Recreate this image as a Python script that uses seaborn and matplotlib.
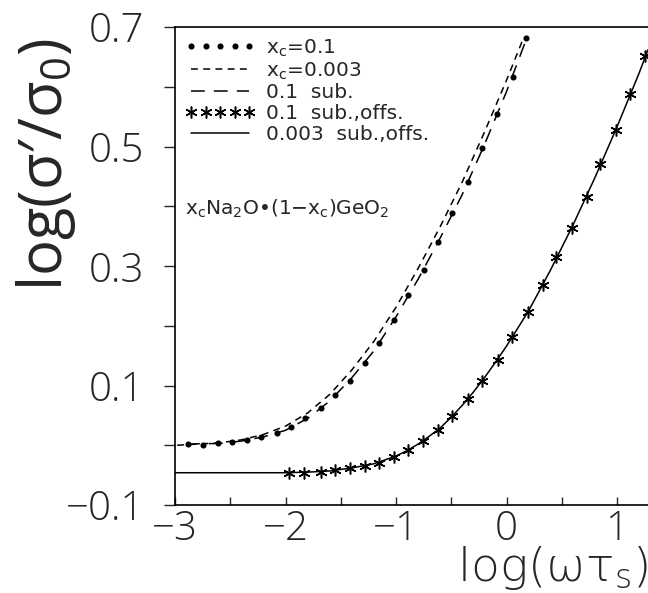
import numpy as np
import pandas as pd
import matplotlib
matplotlib.use("Agg")
import matplotlib.pyplot as plt
import seaborn as sns
from matplotlib import font_manager as fm

# ---- data ----
dots_x = [-2.88, -2.75, -2.61, -2.48, -2.35, -2.22, -2.08, -1.95, -1.82, -1.68, -1.55, -1.42,
          -1.28, -1.15, -1.02, -0.89, -0.75, -0.62, -0.49, -0.35, -0.22, -0.09, 0.06, 0.18]
dots_y = [0.002, 0.000, 0.003, 0.006, 0.008, 0.013, 0.020, 0.030, 0.045, 0.062, 0.084, 0.108,
          0.138, 0.171, 0.209, 0.251, 0.294, 0.341, 0.388, 0.441, 0.498, 0.554, 0.617, 0.681]

x003_x = [-2.98, -2.6, -2.4, -2.2, -2.0, -1.8, -1.6, -1.4, -1.2, -1.0, -0.8, -0.6, -0.4, -0.2, 0.0, 0.15]
x003_y = [0.000, 0.004, 0.009, 0.018, 0.032, 0.054, 0.085, 0.126, 0.174, 0.231, 0.296, 0.366, 0.441, 0.524, 0.611, 0.680]

sub01_x = [-2.9, -2.6, -2.4, -2.2, -2.0, -1.8, -1.6, -1.4, -1.2, -1.0, -0.8, -0.6, -0.4, -0.2, 0.0, 0.18]
sub01_y = [0.002, 0.003, 0.007, 0.014, 0.025, 0.045, 0.074, 0.113, 0.158, 0.215, 0.278, 0.347, 0.420, 0.503, 0.592, 0.680]

stars_x = [-1.97, -1.83, -1.68, -1.55, -1.42, -1.28, -1.15, -1.02, -0.89, -0.76, -0.62, -0.49,
           -0.35, -0.22, -0.08, 0.05, 0.19, 0.33, 0.45, 0.59, 0.73, 0.85, 0.99, 1.12, 1.25]
stars_y = [-0.046, -0.046, -0.044, -0.041, -0.038, -0.035, -0.029, -0.019, -0.008, 0.007, 0.026, 0.049,
           0.077, 0.108, 0.143, 0.181, 0.223, 0.268, 0.315, 0.364, 0.416, 0.471, 0.528, 0.588, 0.652]

solid_x = [-3.0, -2.5, -2.0, -1.8, -1.6, -1.4, -1.2, -1.0, -0.9, -0.8, -0.7, -0.6, -0.5, -0.4,
           -0.3, -0.2, -0.1, 0.0, 0.2, 0.4, 0.6, 0.8, 1.0, 1.2, 1.28]
solid_y = [-0.046, -0.046, -0.046, -0.045, -0.043, -0.038, -0.031, -0.018, -0.009, 0.002, 0.015,
           0.029, 0.047, 0.067, 0.089, 0.113, 0.139, 0.166, 0.225, 0.294, 0.368, 0.448, 0.533,
           0.623, 0.662]

labels = ["x$_\\mathregular{c}$=0.1", "x$_\\mathregular{c}$=0.003", "0.1  sub.",
          "0.1  sub.,offs.", "0.003  sub.,offs."]
x_ticks = [-3, -2, -1, 0, 1]
y_ticks = [-0.1, 0.1, 0.3, 0.5, 0.7]

sns.set_style("ticks")
names = {f.name for f in fm.fontManager.ttflist}
light_name = "Open Sans Light" if "Open Sans Light" in names else "Open Sans"
FAM = [light_name, "Open Sans", "DejaVu Sans"]
plt.rcParams["font.family"] = FAM
plt.rcParams["font.weight"] = "light"
plt.rcParams["mathtext.fontset"] = "custom"
plt.rcParams["mathtext.rm"] = light_name + ":light"
plt.rcParams["mathtext.it"] = light_name + ":italic:light"

THIN = dict(family=["DejaVu Sans", light_name], weight="light")
REG = dict(family=["DejaVu Sans", "Open Sans"], weight="normal")

fig = plt.figure(figsize=(6.48, 5.93), dpi=100)
ax = fig.add_axes([175 / 648, 1 - 505 / 593, 1 - 175 / 648, (505 - 27) / 593])

lw = 1.1
sns.lineplot(x=dots_x, y=dots_y, ax=ax, color="black", linestyle="none", marker="o",
             markersize=4.4, markeredgewidth=0, markeredgecolor="black",
             label=labels[0], sort=False)
sns.lineplot(x=x003_x, y=x003_y, ax=ax, color="black", lw=lw, linestyle=(0, (4.5, 3.5)),
             label=labels[1], sort=False)
sns.lineplot(x=sub01_x, y=sub01_y, ax=ax, color="black", lw=lw, linestyle=(0, (9, 6)),
             label=labels[2], sort=False)
sns.lineplot(x=stars_x, y=stars_y, ax=ax, color="black", linestyle="none",
             marker=(6, 2, 0), markersize=8.5, markeredgewidth=1.1, markeredgecolor="black",
             label=labels[3], sort=False)
sns.lineplot(x=solid_x, y=solid_y, ax=ax, color="black", lw=lw, linestyle="-",
             label=labels[4], sort=False)

ax.set_xlim(-3, 1.28)
ax.set_ylim(-0.1, 0.7)
ax.set_xticks(x_ticks)
ax.set_xticks(np.arange(-3, 1.3, 0.5), minor=True)
ax.set_yticks(y_ticks)
ax.set_yticks(np.arange(-0.1, 0.71, 0.1), minor=True)
ax.set_xticklabels(["\u22123", "\u22122", "\u22121", "0", "1"])
ax.set_yticklabels(["\u22120.1", "0.1", "0.3", "0.5", "0.7"])

ax.tick_params(axis="x", which="both", direction="in", length=6, width=1.0, pad=3,
               labelsize=29)
ax.tick_params(axis="y", which="both", direction="out", length=8, width=1.0, pad=14,
               labelsize=29)

for s in ["left", "bottom", "top"]:
    ax.spines[s].set_linewidth(1.2)
    ax.spines[s].set_color("black")
ax.spines["right"].set_visible(False)

ax.set_xlabel("log(\u03c9\u03c4$_\\mathregular{s}$)", fontsize=34, **THIN)
ax.xaxis.set_label_coords(1.0, -0.182)
ax.xaxis.label.set_ha("right")
ax.xaxis.label.set_va("bottom")

ax.set_ylabel("log(\u03c3\u2032/\u03c3$_\\mathregular{0}$)", fontsize=43)
ax.yaxis.label.set_va("center")
ax.yaxis.set_label_coords(-0.272, 0.712)

ax.text(0.022, 0.62, "x$_\\mathregular{c}$Na$_\\mathregular{2}$O\u2022(1\u2212x$_\\mathregular{c}$)GeO$_\\mathregular{2}$",
        transform=ax.transAxes, fontsize=14.5, va="center", ha="left", **REG)

leg = ax.legend(loc="upper left", bbox_to_anchor=(0.021, 0.978), frameon=False,
                prop=dict(size=14.5, **REG),
                handlelength=3.5, handletextpad=0.55, labelspacing=0.08,
                borderpad=0, borderaxespad=0, numpoints=5)

fig.savefig("out.png", dpi=100)
